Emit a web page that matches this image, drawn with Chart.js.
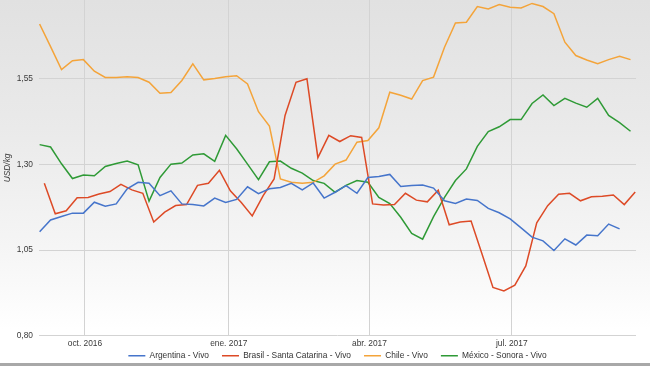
<!DOCTYPE html>
<html>
<head>
    <meta charset="utf-8">
    <title>Precio del cerdo vivo - USD/kg</title>
    <style>
        html, body { margin: 0; padding: 0; }
        body {
            width: 650px; height: 366px; overflow: hidden; position: relative;
            background: linear-gradient(to bottom, #e1e1e1 0%, #eaeaea 35%, #f6f6f6 70%, #ffffff 90%);
        }
        #grafico { position: absolute; left: 0; top: 0; }
        .borde { position: absolute; left: 0; right: 0; bottom: 0; height: 3px; background: #a8a8a8; }
    </style>
</head>
<body>
    <canvas id="grafico" width="650" height="366"></canvas>
    <div class="borde"></div>

    <script src="https://cdn.jsdelivr.net/npm/chart.js@4"></script>
    <script>
        // semanas: Argentina, Chile y México desde el 2/9/2016, Brasil desde el 5/9/2016
        const inicio = '2016-09-02';
        const inicioBrasil = '2016-09-05';
        const mesTicks = ['2016-10-01', '2017-01-01', '2017-04-01', '2017-07-01'];
        const mesLabels = ['oct. 2016', 'ene. 2017', 'abr. 2017', 'jul. 2017'];
        const yTicks = [0.80, 1.05, 1.30, 1.55];

        const argentina = [1.104, 1.138, 1.148, 1.158, 1.158, 1.190, 1.178, 1.185, 1.229, 1.248,
            1.245, 1.209, 1.223, 1.185, 1.183, 1.179, 1.202, 1.189, 1.198, 1.235,
            1.215, 1.229, 1.233, 1.245, 1.226, 1.246, 1.202, 1.219, 1.238, 1.216,
            1.262, 1.265, 1.271, 1.236, 1.239, 1.240, 1.231, 1.194, 1.186, 1.199,
            1.195, 1.172, 1.159, 1.141, 1.115, 1.088, 1.077, 1.049, 1.083, 1.065,
            1.094, 1.092, 1.126, 1.112];
        const brasil = [1.245, 1.156, 1.165, 1.203, 1.204, 1.214, 1.221, 1.242, 1.226, 1.216,
            1.132, 1.161, 1.180, 1.183, 1.239, 1.245, 1.283, 1.223, 1.189, 1.150,
            1.209, 1.258, 1.443, 1.540, 1.550, 1.320, 1.385, 1.367, 1.384, 1.379,
            1.185, 1.182, 1.183, 1.216, 1.196, 1.191, 1.225, 1.124, 1.132, 1.135,
            1.039, 0.941, 0.931, 0.948, 1.004, 1.130, 1.180, 1.213, 1.216, 1.194,
            1.206, 1.207, 1.211, 1.183, 1.220];
        const chile = [1.710, 1.644, 1.577, 1.603, 1.606, 1.572, 1.554, 1.554, 1.556, 1.554,
            1.540, 1.508, 1.510, 1.545, 1.594, 1.547, 1.551, 1.556, 1.559, 1.535,
            1.454, 1.412, 1.258, 1.248, 1.245, 1.248, 1.267, 1.301, 1.313, 1.365,
            1.370, 1.407, 1.511, 1.502, 1.491, 1.545, 1.555, 1.642, 1.713, 1.715,
            1.761, 1.754, 1.767, 1.759, 1.757, 1.770, 1.761, 1.740, 1.657, 1.618,
            1.605, 1.594, 1.606, 1.616, 1.606];
        const mexico = [1.358, 1.351, 1.302, 1.259, 1.269, 1.267, 1.294, 1.303, 1.310, 1.299,
            1.193, 1.262, 1.301, 1.304, 1.328, 1.331, 1.309, 1.385, 1.346, 1.301,
            1.256, 1.308, 1.310, 1.289, 1.275, 1.253, 1.245, 1.219, 1.239, 1.253,
            1.248, 1.204, 1.186, 1.146, 1.099, 1.082, 1.148, 1.204, 1.253, 1.287,
            1.353, 1.396, 1.410, 1.431, 1.431, 1.478, 1.503, 1.472, 1.493, 1.479,
            1.467, 1.493, 1.443, 1.422, 1.397];

        // días desde el 1/10/2016
        function dia(fecha) {
            return (Date.parse(fecha) - Date.parse('2016-10-01')) / 86400000;
        }
        function semanal(fecha, valores) {
            const d0 = dia(fecha);
            return valores.map((v, i) => ({ x: d0 + 7 * i, y: v }));
        }

        const fuente = { family: "'Liberation Sans', Arial, sans-serif", size: 8.4 };

        function serie(label, data, color) {
            return {
                label: label,
                data: data,
                borderColor: color,
                backgroundColor: color,
                borderWidth: 1.5,
                pointRadius: 0,
                tension: 0,
                fill: false
            };
        }

        // la leyenda va pegada al eje x: se achica su caja y se sube al dibujar
        const leyendaCompacta = {
            id: 'leyendaCompacta',
            beforeLayout(chart) {
                const lg = chart.legend;
                if (!lg || lg._ajustada) return;
                const fit = lg.fit, draw = lg.draw;
                lg.fit = function () { fit.call(this); this.height = 13.5; };
                lg.draw = function () {
                    const top = this.top;
                    this.top = top - 14;
                    draw.call(this);
                    this.top = top;
                };
                lg._ajustada = true;
            }
        };

        const ctx = document.getElementById('grafico').getContext('2d');
        const chart = new Chart(ctx, {
            type: 'line',
            data: {
                datasets: [
                    serie('Argentina - Vivo', semanal(inicio, argentina), '#4675cb'),
                    serie('Brasil - Santa Catarina - Vivo', semanal(inicioBrasil, brasil), '#dd4a26'),
                    serie('Chile - Vivo', semanal(inicio, chile), '#f4a43a'),
                    serie('México - Sonora - Vivo', semanal(inicio, mexico), '#2f9a36')
                ]
            },
            options: {
                responsive: false,
                animation: false,
                layout: { padding: { left: 3, right: 14, top: 0, bottom: 0 } },
                scales: {
                    x: {
                        type: 'linear',
                        min: -29.4,
                        max: 352.5,
                        afterBuildTicks: s => { s.ticks = mesTicks.map(f => ({ value: dia(f) })); },
                        ticks: {
                            callback: (v, i) => mesLabels[i],
                            font: fuente,
                            color: '#3a3a3a',
                            padding: 3.3,
                            maxRotation: 0,
                            autoSkip: false
                        },
                        grid: { color: '#d3d3d3', drawTicks: false },
                        border: { display: false }
                    },
                    y: {
                        min: 0.80,
                        max: 1.78,
                        afterBuildTicks: s => { s.ticks = yTicks.map(v => ({ value: v })); },
                        afterFit: s => { s.paddingTop = 0; s.paddingBottom = 0; s.width = 36; },
                        ticks: {
                            callback: v => v.toFixed(2).replace('.', ','),
                            font: fuente,
                            color: '#3a3a3a',
                            padding: 6
                        },
                        title: {
                            display: true,
                            text: 'USD/kg',
                            font: { family: fuente.family, size: 8.4, style: 'italic' },
                            color: '#3a3a3a',
                            padding: { top: 0, bottom: 0 }
                        },
                        grid: { color: '#d3d3d3', drawTicks: false },
                        border: { display: false }
                    }
                },
                plugins: {
                    legend: {
                        position: 'bottom',
                        fullSize: false,
                        labels: {
                            usePointStyle: true,
                            pointStyle: 'line',
                            pointStyleWidth: 17,
                            padding: 13,
                            font: fuente,
                            color: '#333'
                        }
                    },
                    tooltip: { enabled: false }
                }
            },
            plugins: [leyendaCompacta]
        });
    </script>
</body>
</html>
